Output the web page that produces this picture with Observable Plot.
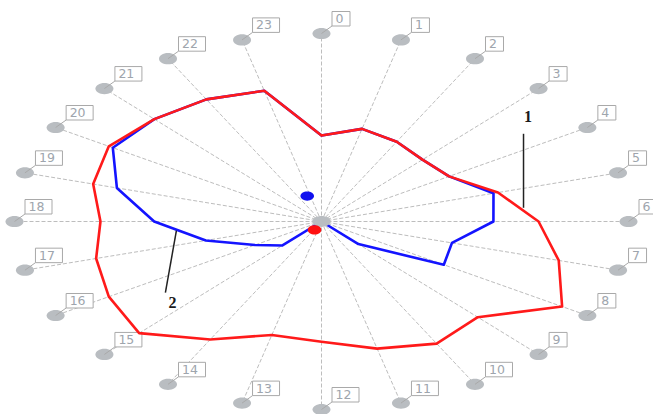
<!DOCTYPE html>
<html>
<head>
<meta charset="utf-8">
<script src="https://cdn.jsdelivr.net/npm/d3@7"></script>
<script src="https://cdn.jsdelivr.net/npm/@observablehq/plot@0.6"></script>
<style>
  body { margin: 0; background: #fff; }
  #chart svg { display: block; }
</style>
</head>
<body>
<div id="chart"></div>
<script>
// Spoke labels (one spoke per hour, clockwise from the top)
const hours = ["0", "1", "2", "3", "4", "5", "6", "7", "8", "9", "10", "11",
               "12", "13", "14", "15", "16", "17", "18", "19", "20", "21", "22", "23"];

// Series values per spoke, on a 0–1 radial scale
const series1 = [0.457, 0.51, 0.49, 0.465, 0.48, 0.595, 0.707, 0.80, 0.905, 0.72, 0.75, 0.70,
                 0.64, 0.625, 0.725, 0.84, 0.80, 0.76, 0.72, 0.77, 0.80, 0.77, 0.75, 0.72];
const series2 = [0.457, 0.51, 0.49, 0.465, 0.48, 0.58, 0.56, 0.44, 0.46, 0.17, 0, 0,
                 0, 0, 0, 0.18, 0.25, 0.39, 0.545, 0.69, 0.785, 0.77, 0.75, 0.72];
const seriesNames = ["1", "2"];

// Mean direction (degrees clockwise from top) and length of each series
const meanAngle = [207, 341];
const meanLength = [0.05, 0.143];

// ---- layout ----
const W = 653, H = 414;
const cx = 321, cy = 221;      // centre of the dial in pixels
const rx = 307, ry = 188;      // pixel length of a unit radius across and down

const step = 360 / hours.length;
const rad = d => d * Math.PI / 180;
const polar = (r, deg) => ({x: r * Math.sin(rad(deg)), y: r * Math.cos(rad(deg))});

const spokes = hours.map((label, i) => ({label, ...polar(1, i * step)}));
const ring = (values, name) => values.map((v, i) => ({series: name, hour: hours[i], ...polar(v, i * step)}));
const ring1 = ring(series1, seriesNames[0]);
const ring2 = ring(series2, seriesNames[1]);
const means = seriesNames.map((name, i) => ({series: name, ...polar(meanLength[i], meanAngle[i])}));

// point part-way along the edge between spoke i and spoke j of a ring
const along = (pts, i, j, t) => ({x: pts[i].x + (pts[j].x - pts[i].x) * t,
                                  y: pts[i].y + (pts[j].y - pts[i].y) * t});
const notes = [
  {label: seriesNames[0], ...along(ring1, 5, 6, 0.63)},
  {label: seriesNames[1], ...along(ring2, 18, 17, 0.43)}
];

// ---- custom symbols (pixel space) ----
const K = 0.5523;
const ellipse = (a, b) => ({
  draw(ctx) {
    ctx.moveTo(a, 0);
    ctx.bezierCurveTo(a, K * b, K * a, b, 0, b);
    ctx.bezierCurveTo(-K * a, b, -a, K * b, -a, 0);
    ctx.bezierCurveTo(-a, -K * b, -K * a, -b, 0, -b);
    ctx.bezierCurveTo(K * a, -b, a, -K * b, a, 0);
    ctx.closePath();
  }
});
// short connector plus a framed box for a spoke label
const tag = w => ({
  draw(ctx) {
    ctx.moveTo(0, 0);
    ctx.lineTo(10.5, -7.5);
    ctx.rect(10.5, -22, w, 14.5);
  }
});
const segment = (x1, y1, x2, y2) => ({
  draw(ctx) { ctx.moveTo(x1, y1); ctx.lineTo(x2, y2); }
});

const short = spokes.filter(d => d.label.length === 1);
const long = spokes.filter(d => d.label.length > 1);

const chart = Plot.plot({
  width: W,
  height: H,
  margin: 0,
  style: {background: "#fff"},
  x: {domain: [-cx / rx, (W - cx) / rx], axis: null},
  y: {domain: [-(H - cy) / ry, cy / ry], axis: null},
  marks: [
    // spokes
    Plot.link(spokes, {x1: 0, y1: 0, x2: "x", y2: "y", stroke: "#bdbdbd", strokeWidth: 1, strokeDasharray: "4,2"}),
    // spoke end knobs
    Plot.dot(spokes, {x: "x", y: "y", symbol: ellipse(9, 5.6), fill: "#b9bdc1", stroke: "none"}),
    // label tags
    Plot.dot(short, {x: "x", y: "y", symbol: tag(18), fill: "#fff", stroke: "#a9a9a9", strokeWidth: 1}),
    Plot.dot(long, {x: "x", y: "y", symbol: tag(27), fill: "#fff", stroke: "#a9a9a9", strokeWidth: 1}),
    Plot.text(spokes, {x: "x", y: "y", text: "label", dx: 14, dy: -14.5, textAnchor: "start",
      fill: "#9ea5ad", fontSize: 12.5, fontFamily: "DejaVu Sans"}),
    // series polygons
    Plot.line(ring2, {x: "x", y: "y", curve: "linear-closed", stroke: "#1414ff", strokeWidth: 2.6}),
    Plot.line(ring1, {x: "x", y: "y", curve: "linear-closed", stroke: "#ff1a1a", strokeWidth: 2.6}),
    // centre
    Plot.dot([{x: 0, y: 0}], {x: "x", y: "y", symbol: ellipse(9, 5.4), fill: "#b9bdc1", stroke: "none"}),
    // mean points
    Plot.dot(means, {x: "x", y: "y", symbol: ellipse(6.8, 4.6), fill: d => d.series === seriesNames[0] ? "#ff1010" : "#1010ee", stroke: "none"}),
    // series callouts
    Plot.dot([notes[0]], {x: "x", y: "y", symbol: segment(0, -3, 0, -77), stroke: "#222", strokeWidth: 1.5, fill: "none"}),
    Plot.dot([notes[1]], {x: "x", y: "y", symbol: segment(0, 1, -11, 63), stroke: "#222", strokeWidth: 1.5, fill: "none"}),
    Plot.text([notes[0]], {x: "x", y: "y", text: "label", dx: 4.5, dy: -94, fill: "#1a1a1a",
      fontSize: 16, fontWeight: "bold", fontFamily: "Liberation Serif"}),
    Plot.text([notes[1]], {x: "x", y: "y", text: "label", dx: -4, dy: 73, fill: "#1a1a1a",
      fontSize: 16, fontWeight: "bold", fontFamily: "Liberation Serif"})
  ]
});

document.getElementById("chart").append(chart);
</script>
</body>
</html>
